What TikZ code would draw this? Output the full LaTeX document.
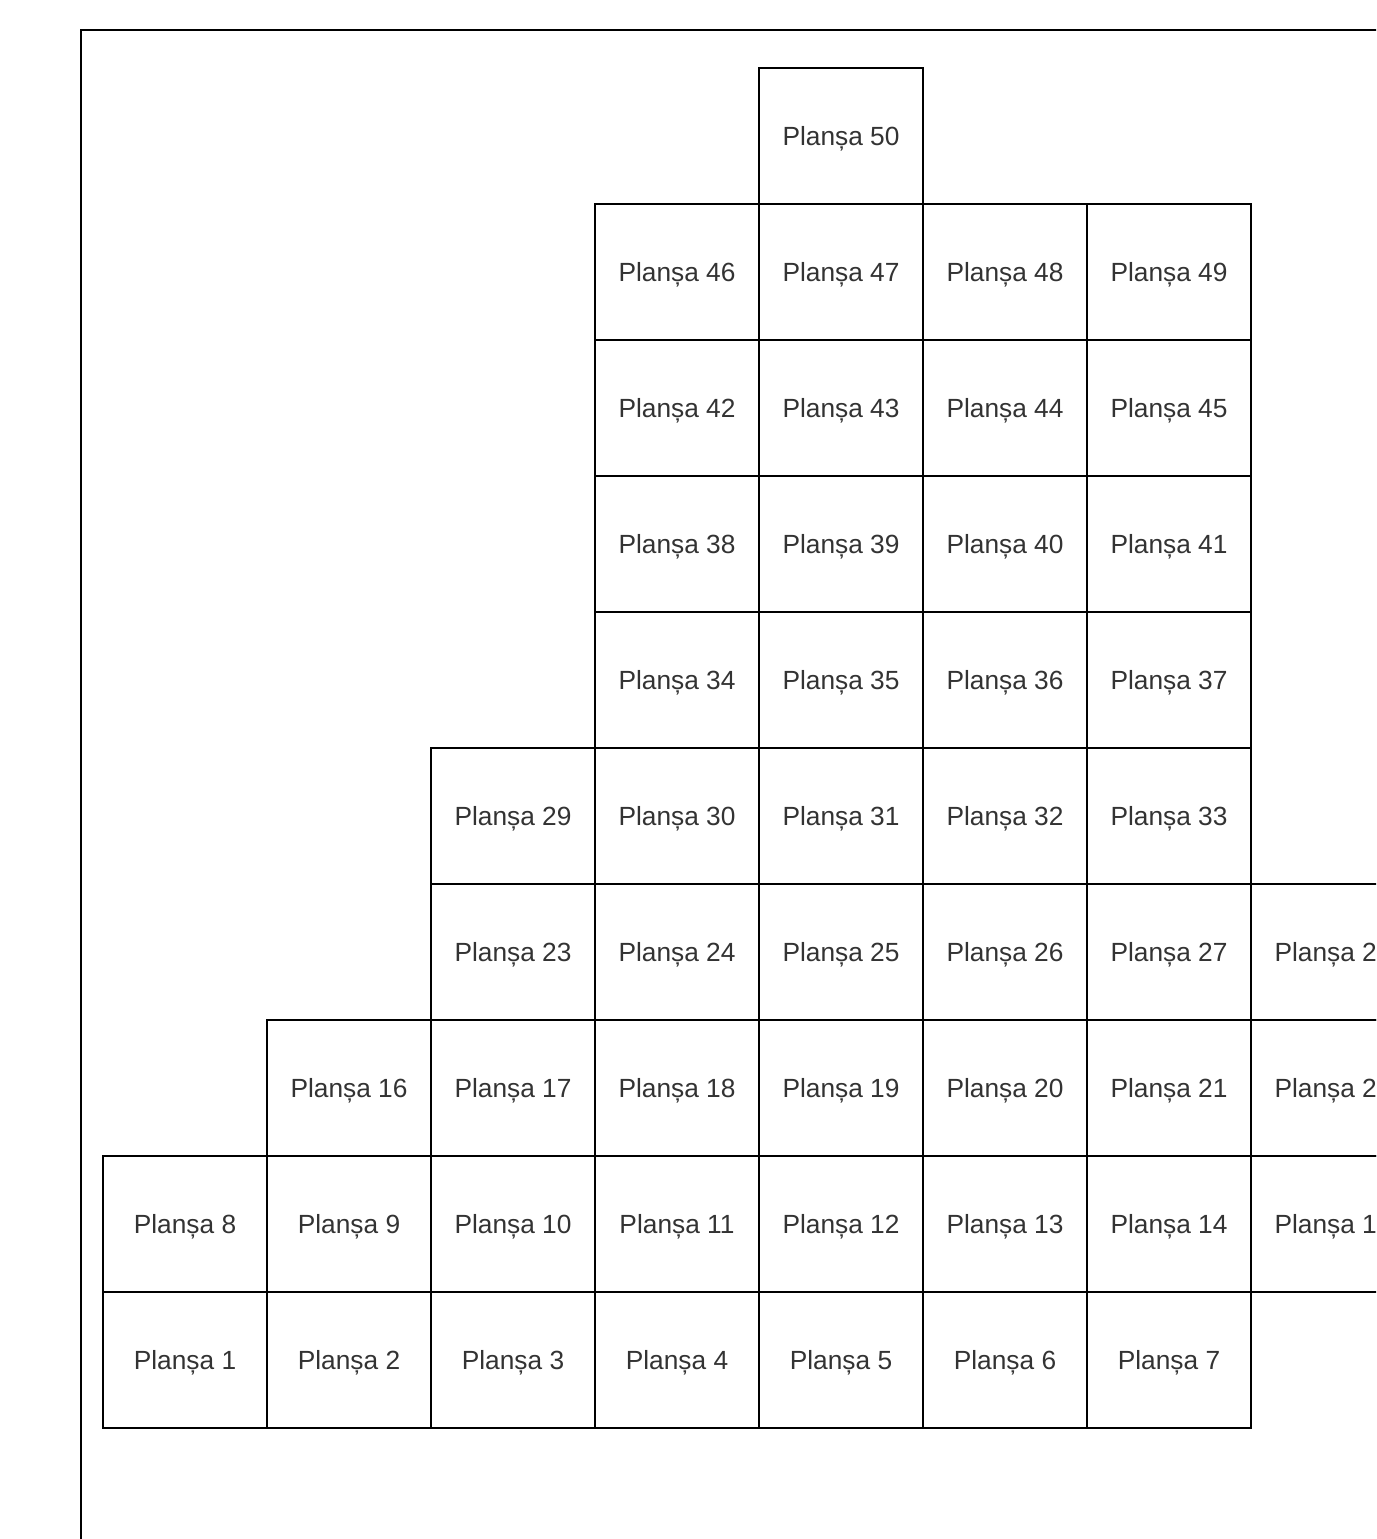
\documentclass[tikz,border=0pt]{standalone}
\usepackage{fontspec}
\setmainfont{Liberation Sans}
\definecolor{txtgray}{HTML}{333333}
\begin{document}
\begin{tikzpicture}[x=1pt,y=-1pt,
  cell/.style={draw=black, line width=1.4pt, minimum width=164pt, minimum height=136pt,
    inner sep=0pt, outer sep=0pt, text depth=0pt, text=txtgray, font=\fontsize{26.3}{30}\selectfont},
  frame/.style={draw=black, line width=2.8pt}]
\useasboundingbox (0,0) rectangle (1376,1539);
\clip (0,0) rectangle (1376,1539);
\fill[white] (0,0) rectangle (1376,1539);
\draw[frame] (81,30) rectangle (1500,1700);
% rows: row index r (0 = bottom), first column, last column, first label number
\foreach \r/\cfirst/\clast/\nfirst in {0/0/6/1, 1/0/7/8, 2/1/7/16, 3/2/7/23, 4/2/6/29, 5/3/6/34, 6/3/6/38, 7/3/6/42, 8/3/6/46, 9/4/4/50}{
  \foreach \c in {\cfirst,...,\clast}{
    \pgfmathtruncatemacro{\n}{\nfirst+\c-\cfirst}
    \node[cell] (c\n) at ({103+164*\c+82},{1428-136*\r-68}) {Planșa \n};
  }
}
\end{tikzpicture}
\end{document}
